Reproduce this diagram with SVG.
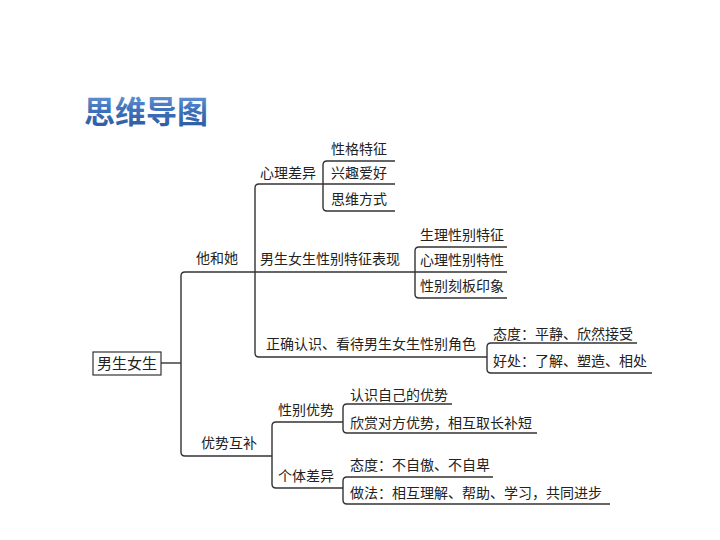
<svg xmlns="http://www.w3.org/2000/svg" width="720" height="540" viewBox="0 0 720 540">
<defs>
<linearGradient id="tg" x1="0" y1="0" x2="0" y2="1">
<stop offset="0" stop-color="#7aa6de"/>
<stop offset="0.5" stop-color="#3f72bd"/>
<stop offset="1" stop-color="#2b5598"/>
</linearGradient>
<style>
.t{font-family:"Noto Sans CJK SC","Noto Sans",sans-serif;font-size:14px;fill:#222}
.c{fill:none;stroke:#333;stroke-width:1.4;stroke-linejoin:round}
.title{font-family:"Noto Sans CJK SC","Noto Sans",sans-serif;font-size:31px;font-weight:bold;fill:url(#tg)}
</style>
</defs>
<rect width="720" height="540" fill="#fff"/>
<text class="title" x="84" y="123">思维导图</text>
<g id="connectors">
<path class="c" d="M161,363 H181"/>
<path class="c" d="M415,272 H185 Q181,272 181,276 V452 Q181,456 185,456 H272"/>
<path class="c" d="M323,184 H259 Q255,184 255,188 V353 Q255,357 259,357 H487"/>
<path class="c" d="M395,161 H327 Q323,161 323,165 V207 Q323,211 327,211 H395 M323,184 H395"/>
<path class="c" d="M507,247 H419 Q415,247 415,251 V294 Q415,298 419,298 H507 M415,272 H507"/>
<path class="c" d="M637,343 H491 Q487,343 487,347 V369 Q487,373 491,373 H652"/>
<path class="c" d="M343,422 H276 Q272,422 272,426 V484 Q272,488 276,488 H343"/>
<path class="c" d="M452,404 H347 Q343,404 343,408 V429 Q343,433 347,433 H537"/>
<path class="c" d="M493,477 H347 Q343,477 343,481 V500 Q343,504 347,504 H610"/>
</g>
<g id="root"><rect x="93" y="352" width="68" height="23" fill="#fff" stroke="#333" stroke-width="1.2"/><text class="t" x="97" y="369" style="font-size:15px">男生女生</text></g>
<g id="n-tahe"><text class="t" x="196" y="263">他和她</text></g>
<g id="n-xinli"><text class="t" x="260" y="178">心理差异</text></g>
<g id="n-biaoxian"><text class="t" x="260" y="264">男生女生性别特征表现</text></g>
<g id="n-zhengque"><text class="t" x="266" y="349">正确认识、看待男生女生性别角色</text></g>
<g id="n-youshi"><text class="t" x="201" y="448">优势互补</text></g>
<g id="n-xingbie"><text class="t" x="278" y="415">性别优势</text></g>
<g id="n-geti"><text class="t" x="278" y="481">个体差异</text></g>
<g id="n-xingge"><text class="t" x="331" y="154">性格特征</text></g>
<g id="n-xingqu"><text class="t" x="331" y="178">兴趣爱好</text></g>
<g id="n-siwei"><text class="t" x="331" y="204">思维方式</text></g>
<g id="n-shengli"><text class="t" x="420" y="240">生理性别特征</text></g>
<g id="n-xinlixb"><text class="t" x="420" y="265">心理性别特性</text></g>
<g id="n-keban"><text class="t" x="420" y="291">性别刻板印象</text></g>
<g id="n-taidu1"><text class="t" x="493" y="339">态度：平静、欣然接受</text></g>
<g id="n-haochu"><text class="t" x="493" y="366">好处：了解、塑造、相处</text></g>
<g id="n-renshi"><text class="t" x="350" y="400">认识自己的优势</text></g>
<g id="n-xinshang"><text class="t" x="350" y="428">欣赏对方优势，相互取长补短</text></g>
<g id="n-taidu2"><text class="t" x="350" y="470">态度：不自傲、不自卑</text></g>
<g id="n-zuofa"><text class="t" x="350" y="498">做法：相互理解、帮助、学习，共同进步</text></g>
</svg>
